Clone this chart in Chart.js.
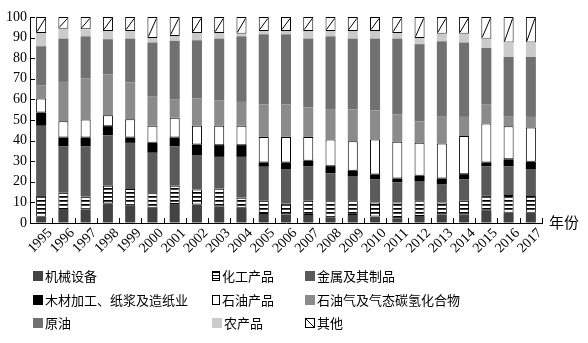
<!DOCTYPE html>
<html>
<head>
<meta charset="utf-8">
<script src="https://cdn.jsdelivr.net/npm/chart.js@4.4.1/dist/chart.umd.min.js"></script>
<style>
  html, body { margin: 0; padding: 0; background: #fff; }
  #wrap { position: relative; width: 588px; height: 343px; overflow: hidden; }
  #c { position: absolute; left: 0; top: 0; }
  .lg { position: absolute; height: 14px; display: flex; align-items: center; white-space: nowrap;
        font: 13px "Noto Sans CJK SC", sans-serif; color: #000; line-height: 14px; }
  .sw { display: inline-block; width: 10px; height: 10px; margin-right: 2px; box-sizing: border-box; flex: none; }
</style>
</head>
<body>
<div id="wrap">
  <canvas id="c" width="588" height="343"></canvas>
</div>
<script>
// Years on the category axis
const years = ['1995','1996','1997','1998','1999','2000','2001','2002','2003','2004','2005',
               '2006','2007','2008','2009','2010','2011','2012','2013','2014','2015','2016','2017'];

// Series names (stack order, bottom to top)
const seriesNames = ['机械设备','化工产品','金属及其制品','木材加工、纸浆及造纸业','石油产品',
                     '石油气及气态碳氢化合物','原油','农产品','其他'];

// Shares of each product group, percent
const machinery = [3.0,6.8,6.6,9.5,8.4,7.4,9.2,9.0,8.0,7.4,4.4,4.2,3.9,2.8,3.9,3.1,2.3,3.4,4.2,4.2,6.0,5.0,5.0];
const chemicals = [10.5,7.9,6.2,8.6,8.1,7.0,8.9,7.3,8.8,4.9,6.4,5.3,6.9,7.8,7.2,6.9,7.7,7.7,5.8,6.6,7.2,8.6,8.1];
const metals    = [33.7,22.6,24.5,24.5,22.4,19.7,19.2,16.7,15.3,19.8,16.5,16.7,16.8,13.5,11.4,11.3,9.7,9.3,8.9,10.5,14.4,14.0,13.1];
const woodPaper = [6.4,4.2,4.2,4.4,2.6,4.8,4.2,5.1,5.7,5.7,2.1,3.2,2.6,3.5,2.9,2.3,1.9,2.5,2.7,2.4,1.8,3.3,3.5];
const oilProducts = [6.8,7.9,8.7,5.3,8.9,8.3,9.6,9.1,9.4,9.4,12.4,12.4,11.6,12.9,14.3,16.9,17.8,16.0,17.0,18.5,18.9,16.1,16.6];
const petroleumGas = [6.5,19.1,19.9,19.9,17.8,14.4,8.8,13.2,12.4,11.6,15.7,15.7,14.3,14.8,15.4,14.2,13.4,10.5,13.3,9.3,9.4,4.9,5.2];
const crudeOil  = [18.9,21.0,20.5,17.0,21.3,26.0,28.5,28.3,29.9,31.8,34.1,34.1,33.4,35.3,34.4,34.8,36.7,37.4,36.3,36.1,27.3,28.7,29.1];
const agriculture = [6.4,4.8,3.4,4.0,3.7,2.2,2.4,3.5,2.7,1.3,1.6,1.6,3.7,2.6,3.7,3.7,2.7,3.0,3.7,4.3,4.5,7.0,7.0];
const others    = [7.8,5.7,6.0,6.8,6.8,10.2,9.2,7.8,7.8,8.1,6.8,6.8,6.8,6.8,6.8,6.8,7.8,10.2,8.1,8.1,10.5,12.4,12.4];

// Y axis tick values
const yTicks = [0,10,20,30,40,50,60,70,80,90,100];
const xAxisTitle = '年份';
const tickFont = '14px "Liberation Serif", "Times New Roman", serif';

// Horizontal hatch used for 化工产品
function makeHatch() {
  const p = document.createElement('canvas');
  p.width = 8; p.height = 4;
  const g = p.getContext('2d');
  g.fillStyle = '#fff'; g.fillRect(0, 0, 8, 4);
  g.fillStyle = '#000'; g.fillRect(0, 0, 8, 1);
  g.fillStyle = '#444'; g.fillRect(0, 1, 8, 1);
  return g.createPattern(p, 'repeat');
}

const ctx = document.getElementById('c').getContext('2d');
const hatch = makeHatch();

const seriesValues = [machinery, chemicals, metals, woodPaper, oilProducts, petroleumGas, crudeOil, agriculture, others];
const fills   = ['#434343', hatch, '#5a5a5a', '#000000', '#ffffff', '#8b8b8b', '#717171', '#cbcbcb', '#ffffff'];
const outlined = [false, true, false, false, true, false, false, false, true];

const datasets = seriesNames.map((name, i) => ({
  label: name,
  data: seriesValues[i],
  backgroundColor: fills[i],
  borderColor: '#000',
  borderWidth: outlined[i] ? 1 : 0,
  borderSkipped: false,
  categoryPercentage: 1,
  barPercentage: 0.45
}));

// Inside tick marks, slanted year labels, the diagonal stroke on 其他 and the axis title
const axisDecor = {
  id: 'axisDecor',
  afterDatasetsDraw(chart) {
    const c = chart.ctx;
    const meta = chart.getDatasetMeta(seriesNames.length - 1);
    c.save();
    c.strokeStyle = '#000';
    c.lineWidth = 1;
    meta.data.forEach(bar => {
      const p = bar.getProps(['x', 'y', 'base', 'width'], true);
      const l = p.x - p.width / 2 + 1, r = p.x + p.width / 2 - 1;
      c.beginPath();
      c.moveTo(l, p.base - 1.5);
      c.lineTo(r, p.y + 1.5);
      c.stroke();
    });
    c.restore();
  },
  afterDraw(chart) {
    const c = chart.ctx;
    const { chartArea, scales: { x, y } } = chart;
    c.save();
    c.strokeStyle = '#000';
    c.lineWidth = 1;
    c.beginPath();
    yTicks.forEach(v => {
      const py = Math.round(y.getPixelForValue(v)) + 0.5;
      c.moveTo(chartArea.left, py);
      c.lineTo(chartArea.left + 5, py);
    });
    for (let i = 0; i <= years.length; i++) {
      const px = Math.round(x.getPixelForValue(i - 0.5)) + 0.5;
      c.moveTo(px, chartArea.bottom);
      c.lineTo(px, chartArea.bottom - 5);
    }
    c.stroke();

    // year labels, slanted 45° with their end under each bar
    c.fillStyle = '#000';
    c.font = tickFont;
    c.textAlign = 'right';
    c.textBaseline = 'top';
    years.forEach((label, i) => {
      const px = x.getPixelForTick(i);
      c.save();
      c.translate(px + 4, chartArea.bottom + 3);
      c.rotate(-Math.PI / 4);
      c.fillText(label, 0, 0);
      c.restore();
    });

    c.font = '15px "Noto Sans CJK SC", sans-serif';
    c.textAlign = 'left';
    c.textBaseline = 'middle';
    c.fillText(xAxisTitle, chartArea.right + 7, chartArea.bottom - 1);
    c.restore();
  }
};

new Chart(ctx, {
  type: 'bar',
  data: { labels: years, datasets },
  options: {
    responsive: false,
    devicePixelRatio: 1,
    animation: false,
    layout: { padding: { top: 17, right: 46, bottom: 100, left: 0 } },
    plugins: {
      legend: { display: false },
      tooltip: { enabled: false }
    },
    scales: {
      x: {
        stacked: true,
        grid: { display: true, drawOnChartArea: false, drawTicks: false },
        border: { display: true, color: '#000', width: 1 },
        ticks: { display: false, autoSkip: false },
        afterFit(s) { s.height = 20; }
      },
      y: {
        stacked: true,
        min: 0,
        max: 100,
        grid: { display: true, drawOnChartArea: false, drawTicks: false },
        border: { display: true, color: '#000', width: 1 },
        afterBuildTicks(s) { s.ticks = yTicks.map(v => ({ value: v })); },
        ticks: {
          padding: 3,
          color: '#000',
          font: { family: '"Liberation Serif", "Times New Roman", serif', size: 14 }
        },
        afterFit(s) { s.width = 30; }
      }
    }
  },
  plugins: [axisDecor]
});

// Legend laid out in three fixed columns
const swatchCss = [
  'background:#434343;',
  'width:8px;border:1px solid #000;background:repeating-linear-gradient(to bottom,#000 0 1px,#fff 1px 3px);',
  'background:#5a5a5a;',
  'background:#000;',
  'width:8px;border:1px solid #000;background:#fff;',
  'background:#8b8b8b;',
  'background:#717171;',
  'background:#cbcbcb;',
  'border:1px solid #000;background:linear-gradient(to top right,#fff calc(50% - 0.7px),#000 50%,#fff calc(50% + 0.7px));'
];
const legendCols = [33, 212, 305];
const legendRows = [276, 300, 323];
const wrap = document.getElementById('wrap');
seriesNames.forEach((name, i) => {
  const d = document.createElement('div');
  d.className = 'lg';
  d.style.left = legendCols[i % 3] + 'px';
  d.style.top = (legendRows[Math.floor(i / 3)] - 7) + 'px';
  const s = document.createElement('span');
  s.className = 'sw';
  s.style.cssText = swatchCss[i];
  d.appendChild(s);
  d.appendChild(document.createTextNode(name));
  wrap.appendChild(d);
});
</script>
</body>
</html>
